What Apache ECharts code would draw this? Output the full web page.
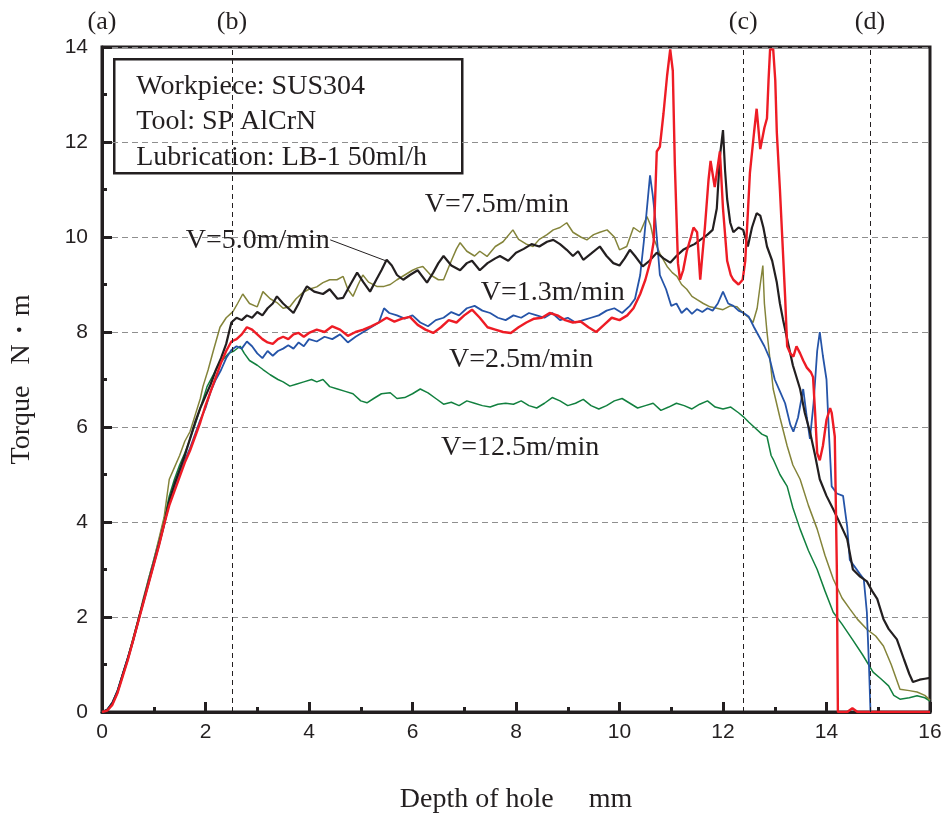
<!DOCTYPE html>
<html>
<head>
<meta charset="utf-8">
<script src="https://cdn.jsdelivr.net/npm/echarts@6/dist/echarts.min.js"></script>
<style>
  html, body { margin: 0; padding: 0; background: #fff; }
  #chart { width: 948px; height: 819px; }
</style>
</head>
<body>
<div id="chart"></div>
<script>
// torque curves, [depth mm, torque N·m]
let v13 = [[0,0],[0.1,0.05],[0.2,0.2],[0.3,0.45],[0.4,0.8],[0.5,1.15],[0.6,1.5],[0.7,1.9],[0.8,2.35],[0.9,2.75],[1.0,3.15],[1.1,3.55],[1.2,3.95],[1.3,4.4],[1.4,4.75],[1.5,5.05],[1.6,5.3],[1.7,5.55],[1.8,5.85],[1.9,6.15],[2.0,6.4],[2.1,6.75],[2.2,7.0],[2.3,7.2],[2.4,7.45],[2.5,7.62],[2.6,7.7],[2.7,7.65],[2.8,7.8],[2.9,7.7],[3.0,7.55],[3.1,7.45],[3.2,7.6],[3.3,7.5],[3.4,7.6],[3.5,7.65],[3.6,7.72],[3.7,7.65],[3.8,7.78],[3.9,7.7],[4.0,7.85],[4.15,7.8],[4.3,7.9],[4.45,7.85],[4.6,7.95],[4.75,7.78],[4.9,7.9],[5.05,8.0],[5.2,8.1],[5.35,8.2],[5.45,8.5],[5.55,8.4],[5.7,8.35],[5.85,8.28],[6.0,8.35],[6.15,8.2],[6.3,8.12],[6.45,8.25],[6.6,8.3],[6.75,8.42],[6.9,8.35],[7.05,8.5],[7.2,8.55],[7.35,8.45],[7.5,8.4],[7.65,8.3],[7.8,8.25],[7.95,8.35],[8.1,8.3],[8.25,8.4],[8.4,8.35],[8.55,8.3],[8.7,8.4],[8.85,8.25],[9.0,8.3],[9.15,8.2],[9.3,8.25],[9.45,8.3],[9.6,8.35],[9.75,8.45],[9.9,8.5],[10.05,8.4],[10.2,8.55],[10.3,8.7],[10.4,9.2],[10.47,9.9],[10.53,10.6],[10.59,11.3],[10.64,10.9],[10.69,10.4],[10.78,9.2],[10.9,8.9],[11.0,8.55],[11.1,8.6],[11.2,8.4],[11.3,8.5],[11.4,8.38],[11.5,8.48],[11.6,8.42],[11.7,8.5],[11.8,8.45],[11.9,8.6],[12.0,8.85],[12.1,8.6],[12.2,8.55],[12.3,8.45],[12.4,8.4],[12.5,8.32],[12.6,8.1],[12.7,7.9],[12.8,7.7],[12.9,7.45],[13.0,7.0],[13.1,6.75],[13.2,6.5],[13.3,6.05],[13.36,5.9],[13.45,6.2],[13.55,6.8],[13.62,6.2],[13.68,5.75],[13.75,6.5],[13.82,7.6],[13.87,8.0],[13.93,7.5],[14.0,7.0],[14.05,5.8],[14.1,4.75],[14.2,4.6],[14.32,4.55],[14.4,3.9],[14.45,3.2],[14.55,3.05],[14.65,2.9],[14.72,2.8],[14.78,2.1],[14.82,1.0],[14.85,0],[15.2,0],[16,0]];

let v25 = [[0,0],[0.1,0.03],[0.2,0.15],[0.3,0.4],[0.4,0.75],[0.5,1.1],[0.6,1.5],[0.7,1.9],[0.8,2.3],[0.9,2.7],[1.0,3.1],[1.1,3.5],[1.2,3.95],[1.3,4.35],[1.4,4.65],[1.5,4.95],[1.6,5.25],[1.7,5.5],[1.8,5.8],[1.9,6.1],[2.0,6.45],[2.1,6.75],[2.2,7.05],[2.3,7.35],[2.4,7.6],[2.5,7.8],[2.6,7.85],[2.7,7.95],[2.8,8.1],[2.9,8.05],[3.0,7.95],[3.1,7.85],[3.2,7.78],[3.3,7.75],[3.4,7.85],[3.5,7.9],[3.6,7.85],[3.7,7.95],[3.8,7.98],[3.9,7.9],[4.0,7.98],[4.15,8.05],[4.3,8.0],[4.45,8.12],[4.6,8.05],[4.75,7.92],[4.9,8.0],[5.05,8.05],[5.2,8.12],[5.35,8.2],[5.5,8.3],[5.65,8.22],[5.8,8.28],[5.95,8.32],[6.1,8.15],[6.25,8.05],[6.4,7.98],[6.55,8.1],[6.7,8.25],[6.85,8.2],[7.0,8.35],[7.15,8.47],[7.3,8.3],[7.45,8.1],[7.6,8.05],[7.75,8.0],[7.9,7.98],[8.05,8.1],[8.2,8.2],[8.35,8.28],[8.5,8.3],[8.65,8.4],[8.8,8.35],[8.95,8.25],[9.1,8.2],[9.25,8.22],[9.4,8.1],[9.55,8.0],[9.7,8.15],[9.85,8.3],[10.0,8.25],[10.15,8.35],[10.27,8.5],[10.4,8.8],[10.5,9.1],[10.6,9.5],[10.66,9.9],[10.72,11.8],[10.78,11.9],[10.85,12.6],[10.92,13.4],[10.98,13.95],[11.03,13.5],[11.07,11.5],[11.13,9.45],[11.17,9.1],[11.23,9.3],[11.3,9.7],[11.38,10.0],[11.43,10.2],[11.5,10.1],[11.56,9.1],[11.6,9.6],[11.65,10.2],[11.72,11.2],[11.76,11.6],[11.84,11.05],[11.9,11.5],[11.94,11.8],[12.0,10.6],[12.08,9.5],[12.15,9.2],[12.2,9.1],[12.3,9.0],[12.38,9.1],[12.43,9.5],[12.48,10.5],[12.52,11.35],[12.6,12.2],[12.65,12.7],[12.72,11.85],[12.8,12.3],[12.85,12.5],[12.88,13.3],[12.91,13.95],[12.97,13.95],[13.01,13.3],[13.04,12.2],[13.1,11.0],[13.14,10.1],[13.2,8.75],[13.24,7.7],[13.3,7.55],[13.36,7.48],[13.42,7.7],[13.49,7.55],[13.55,7.4],[13.62,7.25],[13.7,7.15],[13.74,7.05],[13.78,6.3],[13.82,5.45],[13.87,5.3],[13.93,5.6],[14.0,6.15],[14.07,6.4],[14.1,6.3],[14.16,5.8],[14.2,3.0],[14.22,0],[14.4,0],[14.5,0.08],[14.6,0],[16,0]];

let v50 = [[0,0],[0.1,0.04],[0.2,0.18],[0.3,0.42],[0.4,0.78],[0.5,1.12],[0.6,1.5],[0.7,1.92],[0.8,2.32],[0.9,2.72],[1.0,3.12],[1.1,3.52],[1.2,3.95],[1.3,4.45],[1.4,4.8],[1.5,5.1],[1.6,5.4],[1.7,5.75],[1.8,6.1],[1.9,6.4],[2.0,6.65],[2.1,6.9],[2.2,7.2],[2.3,7.45],[2.4,7.75],[2.5,8.2],[2.6,8.3],[2.7,8.25],[2.8,8.35],[2.9,8.3],[3.0,8.42],[3.1,8.35],[3.2,8.5],[3.3,8.6],[3.38,8.75],[3.5,8.6],[3.6,8.5],[3.7,8.4],[3.8,8.6],[3.9,8.85],[3.96,8.96],[4.1,8.85],[4.27,8.8],[4.4,8.9],[4.55,8.7],[4.66,8.72],[4.8,9.0],[4.93,9.25],[5.05,9.05],[5.18,8.85],[5.3,9.1],[5.4,9.3],[5.5,9.52],[5.6,9.4],[5.7,9.2],[5.82,9.1],[5.95,9.2],[6.1,9.3],[6.28,9.04],[6.4,9.25],[6.5,9.45],[6.6,9.6],[6.75,9.4],[6.92,9.3],[7.05,9.45],[7.15,9.5],[7.3,9.3],[7.45,9.45],[7.6,9.55],[7.69,9.6],[7.85,9.5],[8.0,9.67],[8.15,9.75],[8.3,9.85],[8.45,9.8],[8.6,9.9],[8.72,9.94],[8.85,9.85],[8.98,9.73],[9.1,9.6],[9.2,9.7],[9.3,9.52],[9.45,9.65],[9.62,9.8],[9.75,9.6],[9.88,9.45],[10.0,9.4],[10.1,9.55],[10.2,9.73],[10.3,9.6],[10.45,9.38],[10.58,9.5],[10.72,9.67],[10.85,9.55],[10.98,9.46],[11.1,9.6],[11.23,9.73],[11.35,9.8],[11.45,9.85],[11.56,9.94],[11.7,10.05],[11.8,10.15],[11.88,10.6],[11.94,11.7],[12.0,12.25],[12.04,11.4],[12.08,10.8],[12.14,10.3],[12.2,10.1],[12.3,10.2],[12.39,10.15],[12.48,9.8],[12.56,10.2],[12.65,10.5],[12.72,10.45],[12.78,10.2],[12.85,9.8],[12.95,9.5],[13.04,9.04],[13.1,8.6],[13.16,8.26],[13.25,7.8],[13.35,7.3],[13.49,6.8],[13.58,6.3],[13.68,5.9],[13.78,5.4],[13.87,4.9],[14.0,4.55],[14.13,4.27],[14.27,3.95],[14.4,3.64],[14.51,3.0],[14.65,2.85],[14.78,2.75],[14.88,2.55],[14.98,2.38],[15.1,1.96],[15.2,1.75],[15.36,1.53],[15.5,1.1],[15.6,0.8],[15.67,0.63],[15.8,0.68],[15.9,0.7],[16,0.72]];

let v75 = [[0,0],[0.1,0.05],[0.2,0.2],[0.3,0.45],[0.4,0.8],[0.5,1.15],[0.6,1.55],[0.7,1.95],[0.8,2.4],[0.9,2.8],[1.0,3.2],[1.1,3.65],[1.2,4.1],[1.3,4.9],[1.4,5.15],[1.5,5.4],[1.6,5.7],[1.7,5.9],[1.8,6.25],[1.9,6.6],[1.95,6.85],[2.05,7.2],[2.15,7.6],[2.28,8.1],[2.4,8.3],[2.53,8.43],[2.62,8.6],[2.72,8.8],[2.85,8.6],[3.0,8.53],[3.11,8.85],[3.25,8.7],[3.38,8.62],[3.5,8.5],[3.63,8.53],[3.75,8.7],[3.88,8.83],[4.0,8.9],[4.15,8.95],[4.27,9.04],[4.4,9.1],[4.54,9.1],[4.66,9.17],[4.75,8.9],[4.85,8.75],[4.95,9.0],[5.04,9.2],[5.15,9.05],[5.31,8.96],[5.45,8.96],[5.57,9.0],[5.7,9.1],[5.85,9.2],[6.0,9.3],[6.1,9.35],[6.2,9.38],[6.35,9.2],[6.5,9.1],[6.6,9.1],[6.75,9.5],[6.85,9.75],[6.92,9.88],[7.05,9.7],[7.2,9.6],[7.3,9.7],[7.44,9.59],[7.6,9.8],[7.75,9.9],[7.94,10.15],[8.05,9.95],[8.2,9.85],[8.33,9.8],[8.45,9.95],[8.6,10.05],[8.72,10.15],[8.85,10.2],[8.98,10.3],[9.1,10.1],[9.25,10.0],[9.37,9.94],[9.5,10.05],[9.62,10.1],[9.76,10.15],[9.9,10.0],[10.0,9.73],[10.14,9.8],[10.27,10.2],[10.4,10.1],[10.53,10.43],[10.6,10.25],[10.65,10.0],[10.78,9.65],[10.92,9.38],[11.02,9.25],[11.11,9.17],[11.2,9.0],[11.3,8.9],[11.4,8.75],[11.5,8.68],[11.62,8.6],[11.75,8.53],[11.88,8.5],[12.0,8.47],[12.14,8.55],[12.27,8.53],[12.39,8.4],[12.5,8.3],[12.58,8.2],[12.66,8.5],[12.72,9.0],[12.77,9.4],[12.8,8.6],[12.85,8.0],[12.92,7.3],[12.97,6.8],[13.1,6.2],[13.24,5.6],[13.35,5.2],[13.49,4.9],[13.65,4.35],[13.82,3.85],[13.97,3.3],[14.13,2.8],[14.3,2.4],[14.45,2.17],[14.6,1.95],[14.78,1.74],[14.95,1.6],[15.1,1.39],[15.25,1.0],[15.42,0.48],[15.6,0.45],[15.75,0.42],[15.9,0.35],[16,0.25]];

let v125 = [[0,0],[0.1,0.05],[0.2,0.2],[0.3,0.45],[0.4,0.8],[0.5,1.15],[0.6,1.55],[0.7,1.95],[0.8,2.35],[0.9,2.8],[1.0,3.2],[1.1,3.6],[1.2,4.05],[1.3,4.55],[1.4,4.9],[1.5,5.2],[1.6,5.45],[1.7,5.74],[1.8,6.05],[1.9,6.4],[2.03,6.85],[2.15,7.1],[2.25,7.3],[2.34,7.42],[2.45,7.55],[2.55,7.6],[2.67,7.7],[2.75,7.55],[2.85,7.4],[3.0,7.3],[3.11,7.21],[3.25,7.1],[3.4,7.0],[3.5,6.95],[3.63,6.86],[3.75,6.9],[3.9,6.95],[4.05,7.0],[4.15,6.95],[4.27,7.0],[4.4,6.85],[4.55,6.8],[4.7,6.75],[4.85,6.7],[5.0,6.55],[5.12,6.51],[5.25,6.6],[5.4,6.7],[5.57,6.72],[5.7,6.6],[5.85,6.62],[6.0,6.7],[6.15,6.8],[6.3,6.72],[6.45,6.6],[6.6,6.48],[6.75,6.52],[6.9,6.45],[7.05,6.55],[7.2,6.5],[7.35,6.45],[7.5,6.42],[7.65,6.48],[7.8,6.5],[7.95,6.48],[8.1,6.55],[8.25,6.45],[8.4,6.4],[8.55,6.5],[8.7,6.62],[8.85,6.55],[9.0,6.45],[9.15,6.5],[9.3,6.58],[9.45,6.45],[9.6,6.38],[9.75,6.45],[9.9,6.55],[10.05,6.6],[10.2,6.5],[10.35,6.4],[10.5,6.45],[10.65,6.5],[10.8,6.35],[10.95,6.42],[11.1,6.5],[11.25,6.45],[11.4,6.38],[11.55,6.48],[11.7,6.55],[11.85,6.42],[12.0,6.38],[12.15,6.42],[12.3,6.3],[12.39,6.22],[12.5,6.1],[12.6,6.0],[12.75,5.85],[12.85,5.8],[12.93,5.4],[12.97,5.32],[13.1,5.0],[13.24,4.75],[13.35,4.3],[13.49,3.85],[13.65,3.4],[13.82,3.0],[13.97,2.55],[14.13,2.1],[14.3,1.85],[14.5,1.53],[14.7,1.2],[14.9,0.84],[15.05,0.7],[15.2,0.55],[15.3,0.35],[15.42,0.27],[15.6,0.3],[15.75,0.34],[15.9,0.3],[16,0.23]];

// marker lines (a)-(d), depth mm
let stageNames = ['(a)', '(b)', '(c)', '(d)'];
let stageDepths = [0, 2.51, 12.39, 14.84];

// curve labels and where they sit
let speedNames = ['V=7.5m/min', 'V=5.0m/min', 'V=1.3m/min', 'V=2.5m/min', 'V=12.5m/min'];
let speedSpots = [[7.63, 10.68], [3.01, 9.92], [8.71, 8.83], [8.1, 7.42], [8.08, 5.57]];
let leader = [[4.41, 9.94], [5.53, 9.48]];

let infoLines = ['Workpiece: SUS304', 'Tool: SP AlCrN', 'Lubrication: LB-1 50ml/h'];

const ink = '#231f20';
const serif = '"Liberation Serif", "Times New Roman", serif';

let lineSeries = (name, data, color, width) => ({
    name: name,
    type: 'line',
    data: data,
    showSymbol: false,
    symbol: 'none',
    clip: true,
    lineStyle: { color: color, width: width },
    emphasis: { disabled: true }
});

let green = lineSeries('12.5', v125, '#12803f', 1.5);
let olive = lineSeries('7.5', v75, '#84843a', 1.5);
let blue = lineSeries('1.3', v13, '#2554a8', 1.8);
let black = lineSeries('5.0', v50, ink, 2.2);
let red = lineSeries('2.5', v25, '#ee1c25', 2.4);

green.markLine = {
    silent: true,
    symbol: ['none', 'none'],
    lineStyle: { color: ink, type: [5, 4], width: 1 },
    label: {
        show: true,
        position: 'end',
        distance: 12,
        formatter: '{b}',
        color: ink,
        fontFamily: serif,
        fontSize: 26
    },
    data: stageNames.map((n, i) => ({
        name: n,
        xAxis: stageDepths[i],
        lineStyle: i === 0 ? { color: 'rgba(0,0,0,0)' } : undefined
    }))
};

black.markLine = {
    silent: true,
    symbol: ['none', 'none'],
    lineStyle: { color: ink, type: 'solid', width: 1 },
    label: { show: false },
    data: [[{ coord: leader[0] }, { coord: leader[1] }]]
};

red.markPoint = {
    silent: true,
    symbol: 'circle',
    symbolSize: 0,
    label: {
        show: true,
        position: 'inside',
        formatter: '{b}',
        color: ink,
        fontFamily: serif,
        fontSize: 28
    },
    data: speedNames.map((n, i) => ({ name: n, coord: speedSpots[i] }))
};

let chart = echarts.init(document.getElementById('chart'), null, { renderer: 'canvas' });

let option = {
    animation: false,
    backgroundColor: '#fff',
    grid: {
        left: 102, right: 18, top: 47, bottom: 106,
        show: true, borderColor: ink, borderWidth: 3, backgroundColor: 'transparent'
    },
    xAxis: {
        type: 'value',
        min: 0, max: 16, interval: 2,
        name: 'Depth of hole     mm',
        nameLocation: 'middle',
        nameGap: 74,
        nameTextStyle: { fontFamily: serif, fontSize: 28, color: ink },
        axisLine: { show: true, lineStyle: { color: ink, width: 3 } },
        axisTick: { show: true, inside: true, length: 10, lineStyle: { color: ink, width: 3 } },
        minorTick: { show: true, splitNumber: 2, length: 5, lineStyle: { color: ink, width: 3 } },
        axisLabel: { fontFamily: '"Liberation Sans", Arial, sans-serif', fontSize: 21, color: ink, margin: 10 },
        splitLine: { show: false }
    },
    yAxis: {
        type: 'value',
        min: 0, max: 14, interval: 2,
        name: 'Torque   N・m',
        nameLocation: 'middle',
        nameGap: 66,
        nameRotate: 90,
        nameTextStyle: { fontFamily: serif, fontSize: 28, color: ink },
        axisLine: { show: true, lineStyle: { color: ink, width: 3 } },
        axisTick: { show: true, inside: true, length: 10, lineStyle: { color: ink, width: 3 } },
        minorTick: { show: true, splitNumber: 2, length: 5, lineStyle: { color: ink, width: 3 } },
        axisLabel: { fontFamily: '"Liberation Sans", Arial, sans-serif', fontSize: 21, color: ink, margin: 14 },
        splitLine: { show: true, lineStyle: { color: '#8f8f8f', type: [6, 4], width: 1 } }
    },
    graphic: [{
        type: 'group',
        left: 113,
        top: 58,
        z: 100,
        children: [{
            type: 'rect',
            shape: { x: 0, y: 0, width: 348, height: 114 },
            style: { fill: '#fff', stroke: ink, lineWidth: 2.5 }
        }].concat(infoLines.map((t, i) => ({
            type: 'text',
            x: 22,
            y: 27 + i * 35.5,
            style: { text: t, font: '28px ' + serif, fill: ink, verticalAlign: 'middle' }
        })))
    }],
    series: [green, olive, blue, black, red]
};

chart.setOption(option);
</script>
</body>
</html>
